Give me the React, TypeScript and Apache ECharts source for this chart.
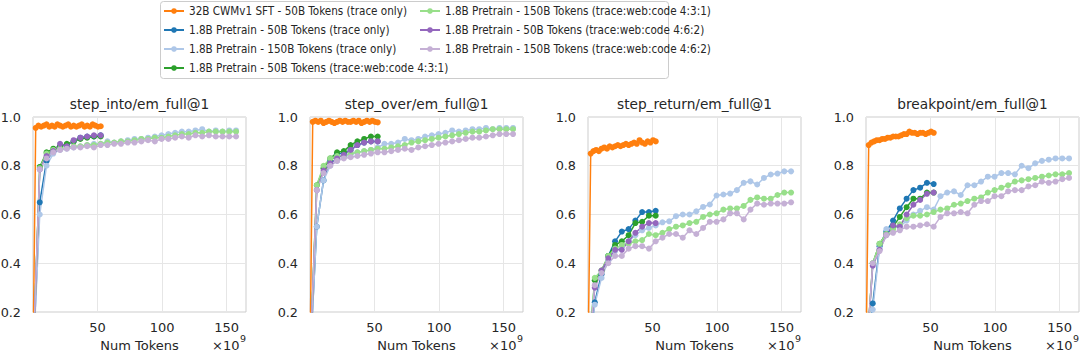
import React, { useEffect, useRef } from "react";
import * as echarts from "echarts";

// ---------- data ----------
const METRICS = [
  "step_into/em_full@1",
  "step_over/em_full@1",
  "step_return/em_full@1",
  "breakpoint/em_full@1",
];

const RUN_NAMES = [
  "32B CWMv1 SFT - 50B Tokens (trace only)",
  "1.8B Pretrain - 50B Tokens (trace only)",
  "1.8B Pretrain - 150B Tokens (trace only)",
  "1.8B Pretrain - 50B Tokens (trace:web:code 4:3:1)",
  "1.8B Pretrain - 150B Tokens (trace:web:code 4:3:1)",
  "1.8B Pretrain - 50B Tokens (trace:web:code 4:6:2)",
  "1.8B Pretrain - 150B Tokens (trace:web:code 4:6:2)",
];

const RUN_COLORS = ["#ff7f0e", "#1f77b4", "#aec7e8", "#2ca02c", "#98df8a", "#9467bd", "#c5b0d5"];

// tokens, in units of 1e9
const TOKENS_32B = [0, 2.1, 4.2, 6.3, 8.4, 10.5, 12.6, 14.7, 16.8, 18.9, 21.0, 23.1, 25.2, 27.3, 29.4, 31.5, 33.6, 35.7, 37.8, 39.9, 42.0, 44.1, 46.2, 48.3, 50.4, 52.5];
const TOKENS_50B = [0, 5.24, 10.49, 15.73, 20.97, 26.21, 31.46, 36.7, 41.94, 47.19, 52.43];
const TOKENS_150B = [0, 5.24, 10.49, 15.73, 20.97, 26.21, 31.46, 36.7, 41.94, 47.19, 52.43, 57.67, 62.91, 68.16, 73.4, 78.64, 83.89, 89.13, 94.37, 99.61, 104.86, 110.1, 115.34, 120.59, 125.83, 131.07, 136.31, 141.56, 146.8, 152.04, 157.29];

const X_TICKS = [50, 100, 150];
const X_MIN = 0;
const X_MAX = 165;
const Y_MIN = 0.2;
const Y_MAX = 1.0;
const Y_STEP = 0.2;

// step_into
const INTO_32B = [0, 0.955, 0.965, 0.96, 0.965, 0.97, 0.96, 0.965, 0.96, 0.97, 0.965, 0.96, 0.965, 0.97, 0.96, 0.965, 0.96, 0.965, 0.97, 0.96, 0.965, 0.96, 0.97, 0.965, 0.96, 0.962];
const INTO_50B_TRACE = [0, 0.65, 0.82, 0.86, 0.88, 0.885, 0.9, 0.915, 0.92, 0.92, 0.925];
const INTO_150B_TRACE = [0, 0.6, 0.8, 0.85, 0.865, 0.87, 0.875, 0.88, 0.885, 0.89, 0.89, 0.9, 0.895, 0.9, 0.905, 0.91, 0.91, 0.915, 0.92, 0.925, 0.93, 0.935, 0.94, 0.94, 0.945, 0.95, 0.94, 0.945, 0.94, 0.945, 0.945];
const INTO_50B_431 = [0, 0.795, 0.855, 0.87, 0.88, 0.89, 0.9, 0.91, 0.915, 0.92, 0.92];
const INTO_150B_431 = [0, 0.79, 0.85, 0.865, 0.87, 0.875, 0.88, 0.88, 0.885, 0.885, 0.89, 0.895, 0.895, 0.9, 0.9, 0.905, 0.91, 0.91, 0.915, 0.915, 0.92, 0.925, 0.93, 0.93, 0.935, 0.935, 0.94, 0.94, 0.94, 0.94, 0.94];
const INTO_50B_462 = [0, 0.785, 0.84, 0.86, 0.89, 0.88, 0.905, 0.915, 0.92, 0.925, 0.925];
const INTO_150B_462 = [0, 0.785, 0.83, 0.855, 0.865, 0.87, 0.875, 0.875, 0.88, 0.875, 0.885, 0.885, 0.89, 0.89, 0.895, 0.895, 0.9, 0.905, 0.9, 0.91, 0.91, 0.915, 0.92, 0.915, 0.925, 0.92, 0.925, 0.92, 0.92, 0.92, 0.92];

// step_over
const OVER_32B = [0, 0.98, 0.985, 0.98, 0.985, 0.975, 0.98, 0.985, 0.98, 0.975, 0.98, 0.985, 0.98, 0.985, 0.98, 0.98, 0.985, 0.98, 0.985, 0.975, 0.98, 0.985, 0.98, 0.985, 0.98, 0.978];
const OVER_50B_TRACE = [0, 0.55, 0.74, 0.82, 0.85, 0.85, 0.865, 0.885, 0.895, 0.9, 0.9];
const OVER_150B_TRACE = [0, 0.55, 0.74, 0.8, 0.82, 0.835, 0.845, 0.855, 0.86, 0.865, 0.875, 0.89, 0.89, 0.895, 0.91, 0.905, 0.91, 0.92, 0.925, 0.93, 0.935, 0.945, 0.94, 0.945, 0.95, 0.95, 0.955, 0.95, 0.955, 0.955, 0.955];
const OVER_50B_431 = [0, 0.72, 0.79, 0.83, 0.855, 0.86, 0.885, 0.9, 0.91, 0.92, 0.92];
const OVER_150B_431 = [0, 0.72, 0.8, 0.83, 0.84, 0.84, 0.85, 0.855, 0.86, 0.865, 0.87, 0.87, 0.875, 0.88, 0.885, 0.895, 0.9, 0.905, 0.91, 0.915, 0.92, 0.925, 0.93, 0.935, 0.94, 0.94, 0.945, 0.95, 0.95, 0.95, 0.95];
const OVER_50B_462 = [0, 0.7, 0.78, 0.81, 0.83, 0.845, 0.865, 0.885, 0.895, 0.9, 0.9];
const OVER_150B_462 = [0, 0.7, 0.77, 0.8, 0.82, 0.83, 0.835, 0.84, 0.845, 0.85, 0.855, 0.855, 0.86, 0.865, 0.87, 0.865, 0.875, 0.88, 0.885, 0.89, 0.895, 0.9, 0.905, 0.91, 0.915, 0.915, 0.92, 0.925, 0.93, 0.93, 0.93];

// step_return
const RETURN_32B = [0, 0.85, 0.86, 0.865, 0.86, 0.87, 0.875, 0.87, 0.88, 0.875, 0.88, 0.885, 0.88, 0.885, 0.89, 0.885, 0.89, 0.895, 0.89, 0.905, 0.895, 0.89, 0.9, 0.895, 0.905, 0.9];
const RETURN_50B_TRACE = [0, 0.24, 0.355, 0.43, 0.49, 0.53, 0.54, 0.575, 0.61, 0.61, 0.615];
const RETURN_150B_TRACE = [0, 0.23, 0.34, 0.41, 0.45, 0.47, 0.49, 0.515, 0.535, 0.545, 0.555, 0.568, 0.572, 0.593, 0.6, 0.6, 0.613, 0.631, 0.641, 0.678, 0.682, 0.686, 0.7, 0.73, 0.736, 0.723, 0.75, 0.764, 0.768, 0.777, 0.777];
const RETURN_50B_431 = [0, 0.33, 0.37, 0.43, 0.475, 0.49, 0.515, 0.565, 0.57, 0.595, 0.595];
const RETURN_150B_431 = [0, 0.34, 0.37, 0.43, 0.46, 0.475, 0.48, 0.49, 0.495, 0.52, 0.515, 0.525, 0.54, 0.55, 0.555, 0.565, 0.57, 0.59, 0.6, 0.605, 0.62, 0.625, 0.625, 0.635, 0.66, 0.67, 0.665, 0.665, 0.68, 0.69, 0.69];
const RETURN_50B_462 = [0, 0.3, 0.37, 0.42, 0.455, 0.455, 0.49, 0.525, 0.55, 0.565, 0.565];
const RETURN_150B_462 = [0, 0.31, 0.36, 0.4, 0.43, 0.43, 0.46, 0.47, 0.47, 0.46, 0.49, 0.505, 0.52, 0.52, 0.505, 0.535, 0.52, 0.545, 0.57, 0.57, 0.58, 0.605, 0.605, 0.58, 0.62, 0.645, 0.64, 0.645, 0.645, 0.645, 0.65];

// breakpoint
const BREAK_32B = [0, 0.885, 0.895, 0.9, 0.905, 0.905, 0.91, 0.91, 0.915, 0.915, 0.92, 0.92, 0.92, 0.925, 0.93, 0.93, 0.94, 0.935, 0.935, 0.93, 0.935, 0.935, 0.93, 0.935, 0.94, 0.935];
const BREAK_50B_TRACE = [0, 0.235, 0.47, 0.53, 0.575, 0.625, 0.665, 0.7, 0.71, 0.73, 0.725];
const BREAK_150B_TRACE = [0, 0.21, 0.46, 0.54, 0.545, 0.55, 0.575, 0.6, 0.615, 0.63, 0.62, 0.675, 0.69, 0.695, 0.68, 0.72, 0.72, 0.735, 0.755, 0.755, 0.77, 0.77, 0.765, 0.8, 0.79, 0.81, 0.82, 0.825, 0.83, 0.83, 0.83];
const BREAK_50B_431 = [0, 0.4, 0.48, 0.52, 0.55, 0.59, 0.63, 0.665, 0.665, 0.69, 0.69];
const BREAK_150B_431 = [0, 0.4, 0.48, 0.52, 0.54, 0.56, 0.585, 0.595, 0.595, 0.6, 0.61, 0.62, 0.625, 0.64, 0.645, 0.655, 0.665, 0.67, 0.69, 0.7, 0.71, 0.72, 0.735, 0.74, 0.745, 0.75, 0.755, 0.76, 0.765, 0.765, 0.77];
const BREAK_50B_462 = [0, 0.39, 0.455, 0.515, 0.555, 0.55, 0.6, 0.64, 0.66, 0.685, 0.69];
const BREAK_150B_462 = [0, 0.4, 0.45, 0.515, 0.525, 0.535, 0.55, 0.55, 0.555, 0.56, 0.55, 0.59, 0.605, 0.605, 0.61, 0.605, 0.64, 0.655, 0.655, 0.675, 0.675, 0.695, 0.7, 0.7, 0.715, 0.72, 0.735, 0.73, 0.735, 0.745, 0.75];

const RUN_TOKENS = [TOKENS_32B, TOKENS_50B, TOKENS_150B, TOKENS_50B, TOKENS_150B, TOKENS_50B, TOKENS_150B];
const METRIC_VALUES = [
  [INTO_32B, INTO_50B_TRACE, INTO_150B_TRACE, INTO_50B_431, INTO_150B_431, INTO_50B_462, INTO_150B_462],
  [OVER_32B, OVER_50B_TRACE, OVER_150B_TRACE, OVER_50B_431, OVER_150B_431, OVER_50B_462, OVER_150B_462],
  [RETURN_32B, RETURN_50B_TRACE, RETURN_150B_TRACE, RETURN_50B_431, RETURN_150B_431, RETURN_50B_462, RETURN_150B_462],
  [BREAK_32B, BREAK_50B_TRACE, BREAK_150B_TRACE, BREAK_50B_431, BREAK_150B_431, BREAK_50B_462, BREAK_150B_462],
];

// ---------- layout ----------
const GRID_LEFTS = [33, 310, 588, 866];
const GRID_WIDTH = 213;
const GRID_TOP = 117;
const GRID_HEIGHT = 195;
const FONT = "DejaVu Sans";
const TEXT_COLOR = "#262626";
const GRID_LINE = "#e6e6e6";
const BORDER = "#cccccc";

function buildOption() {
  const grid = GRID_LEFTS.map((left) => ({
    left,
    top: GRID_TOP,
    width: GRID_WIDTH,
    height: GRID_HEIGHT,
    show: true,
    borderColor: BORDER,
    borderWidth: 1,
    backgroundColor: "transparent",
    containLabel: false,
    outerBoundsMode: "none",
  }));

  const xAxis = GRID_LEFTS.map((_, i) => ({
    type: "value",
    gridIndex: i,
    min: X_MIN,
    max: X_MAX,
    interval: 50,
    axisLine: { show: false },
    axisTick: { show: false },
    axisLabel: {
      fontFamily: FONT,
      fontSize: 13,
      color: TEXT_COLOR,
      margin: 9,
      showMinLabel: false,
      showMaxLabel: false,
      formatter: (v: number) => (X_TICKS.includes(v) ? String(v) : ""),
    },
    splitLine: { show: true, lineStyle: { color: GRID_LINE, width: 1 } },
    name: "Num Tokens",
    nameLocation: "middle",
    nameGap: 26,
    nameTextStyle: { fontFamily: FONT, fontSize: 13, color: TEXT_COLOR },
  }));

  const yAxis = GRID_LEFTS.map((_, i) => ({
    type: "value",
    gridIndex: i,
    min: Y_MIN,
    max: Y_MAX,
    interval: Y_STEP,
    axisLine: { show: false },
    axisTick: { show: false },
    axisLabel: {
      fontFamily: FONT,
      fontSize: 12.8,
      color: TEXT_COLOR,
      margin: 12,
      formatter: (v: number) => v.toFixed(1),
    },
    splitLine: { show: true, lineStyle: { color: GRID_LINE, width: 1 } },
  }));

  const title = METRICS.map((m, i) => ({
    text: m,
    left: GRID_LEFTS[i] + GRID_WIDTH / 2,
    top: 97,
    textAlign: "center",
    padding: 0,
    textStyle: { fontFamily: FONT, fontSize: 13.7, fontWeight: "normal", color: TEXT_COLOR },
  }));

  const series: any[] = [];
  METRIC_VALUES.forEach((runs, i) => {
    runs.forEach((vals, r) => {
      const tokens = RUN_TOKENS[r];
      series.push({
        type: "line",
        name: RUN_NAMES[r],
        xAxisIndex: i,
        yAxisIndex: i,
        data: vals.map((v, j) => [tokens[j], v]),
        symbol: "circle",
        symbolSize: 6,
        showSymbol: true,
        showAllSymbol: true,
        clip: true,
        silent: true,
        lineStyle: { width: 1.5, color: RUN_COLORS[r] },
        itemStyle: { color: RUN_COLORS[r] },
        emphasis: { disabled: true },
      });
    });
  });

  const legendCommon = {
    orient: "vertical",
    top: 4,
    padding: 0,
    itemGap: 5,
    itemWidth: 20,
    itemHeight: 7,
    selectedMode: false,
    textStyle: {
      fontFamily: "'Liberation Sans Narrow', 'DejaVu Sans Condensed', sans-serif",
      fontSize: 11.6,
      lineHeight: 14,
      color: TEXT_COLOR,
    },
  };
  const legend = [
    { ...legendCommon, left: 163, data: RUN_NAMES.slice(0, 4) },
    { ...legendCommon, left: 419, data: RUN_NAMES.slice(4) },
  ];

  const graphic: any[] = [
    {
      type: "rect",
      silent: true,
      z: -1,
      shape: { x: 160.5, y: 1.5, width: 508, height: 77, r: 3 },
      style: { fill: "#ffffff", stroke: BORDER, lineWidth: 1 },
    },
  ];
  GRID_LEFTS.forEach((left) => {
    const right = left + GRID_WIDTH;
    graphic.push({
      type: "text",
      silent: true,
      x: right - 6.5,
      y: 345,
      style: {
        text: "×10",
        fontFamily: FONT,
        fontSize: 13,
        fill: TEXT_COLOR,
        textAlign: "right",
        textVerticalAlign: "middle",
      },
    });
    graphic.push({
      type: "text",
      silent: true,
      x: right - 6,
      y: 338.5,
      style: {
        text: "9",
        fontFamily: FONT,
        fontSize: 9.5,
        fill: TEXT_COLOR,
        textAlign: "left",
        textVerticalAlign: "middle",
      },
    });
  });

  return {
    animation: false,
    backgroundColor: "#ffffff",
    title,
    legend,
    grid,
    xAxis,
    yAxis,
    series,
    graphic,
  };
}

export default function App() {
  const ref = useRef<HTMLDivElement>(null);
  useEffect(() => {
    if (!ref.current) return;
    const chart = echarts.init(ref.current, null, { renderer: "svg" });
    chart.setOption(buildOption() as any);
    return () => chart.dispose();
  }, []);
  return (
    <div
      ref={ref}
      style={{ position: "absolute", left: 0, top: 0, width: 1080, height: 354 }}
    />
  );
}
